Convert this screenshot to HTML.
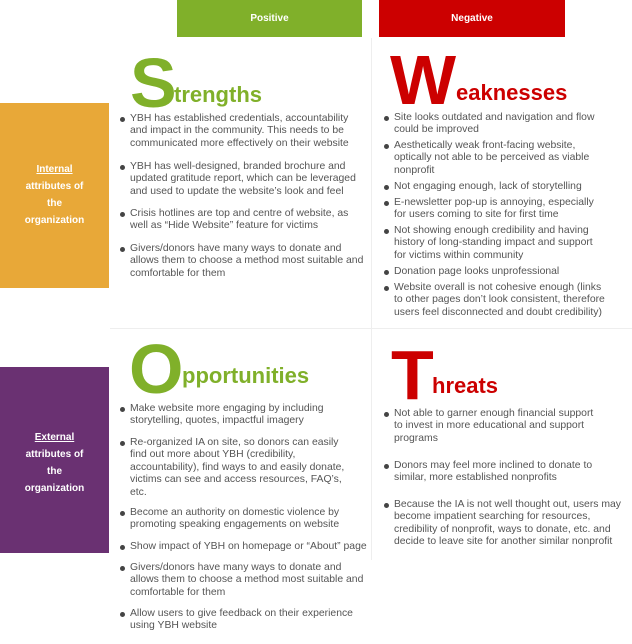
<!DOCTYPE html>
<html><head><meta charset="utf-8"><style>
body{margin:0;width:632px;height:644px;position:relative;background:#fff;font-family:"Liberation Sans",sans-serif;overflow:hidden}
.a{position:absolute}
.hd{position:absolute;top:0;height:37px;color:#fff;font-weight:bold;font-size:10px;text-align:center;line-height:37px}
.side{position:absolute;left:0;width:109px;color:#fff;font-weight:bold;font-size:10px;text-align:center;line-height:17px}
.b{position:absolute;font-size:10.4px;line-height:12.4px;color:#555;white-space:nowrap}
.b:before{content:"";position:absolute;left:-10px;top:4px;width:5px;height:5px;border-radius:50%;background:#444}
.big{position:absolute;font-weight:bold;font-size:70px;line-height:1}
.rest{position:absolute;font-weight:bold;font-size:22px;line-height:1}
.g{color:#80b02a}.r{color:#cc0000}
</style></head><body>
<div class="hd" style="left:177px;width:185px;background:#80b02a">Positive</div>
<div class="hd" style="left:379px;width:186px;background:#cc0000">Negative</div>
<div class="a" style="left:371px;top:38px;width:1px;height:522px;background:#eee"></div>
<div class="a" style="left:110px;top:328px;width:522px;height:1px;background:#eee"></div>

<div class="side" style="top:103px;height:185px;background:#e8a838"><div style="padding-top:58px"><u>Internal</u><br>attributes of<br>the<br>organization</div></div>
<div class="side" style="top:367px;height:186px;background:#6a3172"><div style="padding-top:62px"><u>External</u><br>attributes of<br>the<br>organization</div></div>

<div class="big g" style="left:130px;top:48px">S</div>
<div class="rest g" style="left:174px;top:84px">trengths</div>
<div class="big r" style="left:390px;top:45px">W</div>
<div class="rest r" style="left:456px;top:82px">eaknesses</div>
<div class="big g" style="left:129px;top:334px">O</div>
<div class="rest g" style="left:182px;top:365px">pportunities</div>
<div class="big r" style="left:391px;top:340px">T</div>
<div class="rest r" style="left:432px;top:375px">hreats</div>

<div class="b" style="left:130px;top:113px">YBH has established credentials, accountability<br>and impact in the community. This needs to be<br>communicated more effectively on their website</div>
<div class="b" style="left:130px;top:161px">YBH has well-designed, branded brochure and<br>updated gratitude report, which can be leveraged<br>and used to update the website’s look and feel</div>
<div class="b" style="left:130px;top:208px">Crisis hotlines are top and centre of website, as<br>well as “Hide Website” feature for victims</div>
<div class="b" style="left:130px;top:243px">Givers/donors have many ways to donate and<br>allows them to choose a method most suitable and<br>comfortable for them</div>

<div class="b" style="left:394px;top:112px">Site looks outdated and navigation and flow<br>could be improved</div>
<div class="b" style="left:394px;top:140px">Aesthetically weak front-facing website,<br>optically not able to be perceived as viable<br>nonprofit</div>
<div class="b" style="left:394px;top:181px">Not engaging enough, lack of storytelling</div>
<div class="b" style="left:394px;top:197px">E-newsletter pop-up is annoying, especially<br>for users coming to site for first time</div>
<div class="b" style="left:394px;top:225px">Not showing enough credibility and having<br>history of long-standing impact and support<br>for victims within community</div>
<div class="b" style="left:394px;top:266px">Donation page looks unprofessional</div>
<div class="b" style="left:394px;top:282px">Website overall is not cohesive enough (links<br>to other pages don’t look consistent, therefore<br>users feel disconnected and doubt credibility)</div>

<div class="b" style="left:130px;top:403px">Make website more engaging by including<br>storytelling, quotes, impactful imagery</div>
<div class="b" style="left:130px;top:437px">Re-organized IA on site, so donors can easily<br>find out more about YBH (credibility,<br>accountability), find ways to and easily donate,<br>victims can see and access resources, FAQ’s,<br>etc.</div>
<div class="b" style="left:130px;top:507px">Become an authority on domestic violence by<br>promoting speaking engagements on website</div>
<div class="b" style="left:130px;top:541px">Show impact of YBH on homepage or “About” page</div>
<div class="b" style="left:130px;top:562px">Givers/donors have many ways to donate and<br>allows them to choose a method most suitable and<br>comfortable for them</div>
<div class="b" style="left:130px;top:608px">Allow users to give feedback on their experience<br>using YBH website</div>

<div class="b" style="left:394px;top:408px">Not able to garner enough financial support<br>to invest in more educational and support<br>programs</div>
<div class="b" style="left:394px;top:460px">Donors may feel more inclined to donate to<br>similar, more established nonprofits</div>
<div class="b" style="left:394px;top:499px">Because the IA is not well thought out, users may<br>become impatient searching for resources,<br>credibility of nonprofit, ways to donate, etc. and<br>decide to leave site for another similar nonprofit</div>
</body></html>
